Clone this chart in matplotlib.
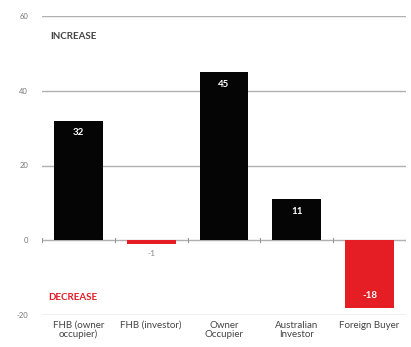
import matplotlib
matplotlib.use("Agg")
import matplotlib.pyplot as plt

categories = ["FHB (owner\noccupier)", "FHB (investor)", "Owner\nOccupier", "Australian\nInvestor", "Foreign Buyer"]
values = [32, -1, 45, 11, -18]
yticks = [-20, 0, 20, 40, 60]

plt.rcParams['font.family'] = ['Lato', 'DejaVu Sans']

fig = plt.figure(figsize=(4.11, 3.47), dpi=100)
ax = fig.add_axes([42/411, 1-315/347, (406-42)/411, (315-16)/347])

black = "#050505"
red = "#e51e26"
colors = [black if v >= 0 else red for v in values]
x = list(range(len(categories)))

for y in yticks:
    ax.axhline(y, color="#b0b0b0", lw=1.0, zorder=0)

ax.bar(x, values, width=0.67, color=colors, zorder=2)

for xi, v in zip(x, values):
    if v >= 1:
        ax.text(xi, v - 2.0, str(v), ha="center", va="top", color="white", fontsize=7, fontweight="bold", zorder=3)
    elif v <= -5:
        ax.text(xi, v + 2.0, str(v), ha="center", va="bottom", color="white", fontsize=7, fontweight="bold", zorder=3)
    else:
        ax.text(xi, v - 1.5, str(v), ha="center", va="top", color="#888888", fontsize=6, zorder=3)

# small ticks on zero line between categories
for b in [i + 0.5 for i in range(-1, len(categories))]:
    ax.plot([b, b], [-0.6, 0.6], color="#999999", lw=0.8, zorder=1)

ax.set_xlim(-0.5, len(categories) - 0.5)
ax.set_ylim(-20, 60)
ax.set_yticks(yticks)
ax.set_yticklabels([str(t) for t in yticks], fontsize=5.5, color="#777777")
ax.set_xticks(x)
ax.set_xticklabels(categories, fontsize=7, color="#444444", linespacing=1.0)
ax.tick_params(axis="both", length=0, pad=4)
ax.tick_params(axis="y", pad=10)
for s in ax.spines.values():
    s.set_visible(False)

ax.text(-0.38, 54.5, "INCREASE", fontsize=7, fontweight="bold", color="#444444", ha="left", va="center")
ax.text(-0.42, -15.2, "DECREASE", fontsize=7, fontweight="bold", color=red, ha="left", va="center")

fig.savefig("out.png", dpi=100)
